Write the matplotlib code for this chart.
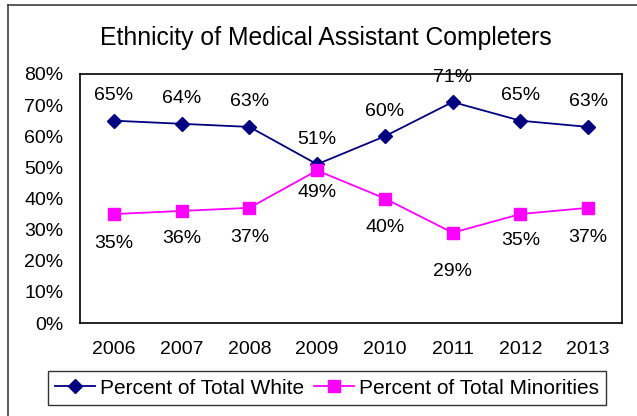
import matplotlib
matplotlib.use("Agg")
import matplotlib.pyplot as plt
from matplotlib.lines import Line2D

plt.rcParams['font.family'] = ['Liberation Sans', 'DejaVu Sans']

years = ["2006", "2007", "2008", "2009", "2010", "2011", "2012", "2013"]
white = [65, 64, 63, 51, 60, 71, 65, 63]
minorities = [35, 36, 37, 49, 40, 29, 35, 37]
yticks = [0, 10, 20, 30, 40, 50, 60, 70, 80]

W, H = 637, 416
fig = plt.figure(figsize=(W / 100, H / 100), dpi=100)
ax = fig.add_axes([80 / W, 1 - 323 / H, (622 - 80) / W, (323 - 74) / H])

x = list(range(len(years)))
ax.plot(x, white, color="#000080", marker="D", markersize=7, linewidth=1.3,
        label="Percent of Total White")
ax.plot(x, minorities, color="#FF00FF", marker="s", markersize=8, linewidth=1.3,
        label="Percent of Total Minorities")

# data labels: white above, minorities below
min_dy = [-21, -20, -21, -16, -21, -28, -19, -21]
for i in x:
    ax.annotate(f"{white[i]}%", (i, white[i]), xytext=(0, 18), textcoords="offset points",
                ha="center", va="center", fontsize=14)
    ax.annotate(f"{minorities[i]}%", (i, minorities[i]), xytext=(0, min_dy[i]),
                textcoords="offset points", ha="center", va="center", fontsize=14)

ax.set_xlim(-0.5, len(years) - 0.5)
ax.set_ylim(0, 80)
ax.set_xticks(x)
ax.set_xticklabels(years, fontsize=14)
ax.set_yticks(yticks)
ax.set_yticklabels([f"{v}%" for v in yticks], fontsize=14)
ax.tick_params(length=0)
ax.tick_params(axis="y", pad=12)
ax.tick_params(axis="x", pad=13)
for s in ax.spines.values():
    s.set_linewidth(1.2)

fig.text(326 / W, 1 - 38 / H, "Ethnicity of Medical Assistant Completers",
         ha="center", va="center", fontsize=17.8)

leg = fig.legend(loc="center", bbox_to_anchor=(327 / W, 1 - 388 / H), ncol=2,
                 fontsize=15, frameon=True, fancybox=False, edgecolor="black",
                 handlelength=1.9, handletextpad=0.25, columnspacing=0.5, borderpad=0.35)
leg.get_frame().set_linewidth(1.0)

# outer chart border
fig.add_artist(Line2D([8 / W, 8 / W], [0, 1 - 5 / H], color="#404040", linewidth=1.2))
fig.add_artist(Line2D([8 / W, 1], [1 - 5 / H, 1 - 5 / H], color="#404040", linewidth=1.2))

fig.savefig("out.png", dpi=100)
